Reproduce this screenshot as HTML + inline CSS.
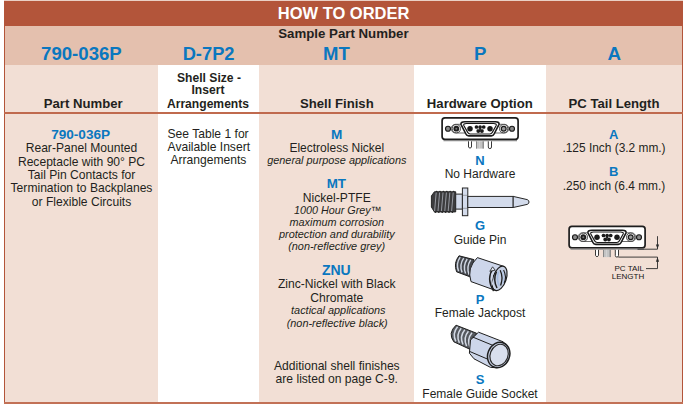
<!DOCTYPE html>
<html><head><meta charset="utf-8"><style>
html,body{margin:0;padding:0;background:#fff;}
body{width:684px;height:406px;position:relative;overflow:hidden;font-family:"Liberation Sans",sans-serif;}
.r{position:absolute;}
.t{position:absolute;text-align:center;white-space:nowrap;}
svg{position:absolute;left:0;top:0;}
</style></head><body>
<div class="r" style="left:5px;top:65px;width:153px;height:337px;background:#f2dfd5;"></div><div class="r" style="left:158px;top:65px;width:101px;height:337px;background:#ffffff;"></div><div class="r" style="left:259px;top:65px;width:155px;height:337px;background:#f2dfd5;"></div><div class="r" style="left:414px;top:65px;width:132px;height:337px;background:#ffffff;"></div><div class="r" style="left:546px;top:65px;width:136px;height:337px;background:#f2dfd5;"></div><div class="r" style="left:4px;top:26px;width:679px;height:39px;background:#e4c0ae;"></div><div class="r" style="left:4px;top:1px;width:679px;height:25px;background:#b3553a;"></div><div class="r" style="left:4px;top:0px;width:679px;height:1px;background:#ead0c5;"></div><div class="r" style="left:4px;top:1px;width:1px;height:402px;background:#b3553a;"></div><div class="r" style="left:682px;top:1px;width:1px;height:402px;background:#b3553a;"></div><div class="r" style="left:4px;top:402px;width:679px;height:2px;background:#c27156;"></div><div class="r" style="left:4px;top:112px;width:679px;height:2px;background:#c06a4e;"></div>
<svg width="684" height="406" viewBox="0 0 684 406">
<defs>
<g id="conn">
  <rect x="442.1" y="117.9" width="76" height="21.5" rx="2.8" fill="#fff" stroke="#1e1e1e" stroke-width="1.7"/>
  <line x1="443.5" y1="140.6" x2="517" y2="140.6" stroke="#8a8a8a" stroke-width="1.2"/>
  <!-- flange pills around screws -->
  <path d="M466,124.3 L455.5,124.3 A4.3,4.3 0 0 0 455.5,133 L466,133" fill="none" stroke="#444" stroke-width="0.8"/>
  <path d="M494,124.3 L504.5,124.3 A4.3,4.3 0 0 1 504.5,133 L494,133" fill="none" stroke="#444" stroke-width="0.8"/>
  <circle cx="448" cy="128.7" r="2.5" fill="#8a8a8a" stroke="#1a1a1a" stroke-width="1.15"/>
  <circle cx="512" cy="128.7" r="2.5" fill="#8a8a8a" stroke="#1a1a1a" stroke-width="1.15"/>
  <circle cx="456.3" cy="128.7" r="4.1" fill="#fff" stroke="#222" stroke-width="0.85"/>
  <circle cx="456.3" cy="128.7" r="2.9" fill="#1e1e1e"/>
  <circle cx="456.3" cy="128.7" r="1" fill="#777"/>
  <circle cx="503.7" cy="128.7" r="4.1" fill="#fff" stroke="#222" stroke-width="0.85"/>
  <circle cx="503.7" cy="128.7" r="2.4" fill="#9a9a9a" stroke="#1a1a1a" stroke-width="1.2"/>
  <!-- D shell -->
  <path d="M465,121.8 L495.3,121.8 Q499.8,121.8 498.9,124.6 L494.1,134 Q493.3,135.9 491.2,135.9 L468.8,135.9 Q466.7,135.9 465.9,134 L461.1,124.6 Q460.2,121.8 465,121.8 Z" fill="#fff" stroke="#1a1a1a" stroke-width="1.6"/>
  <path d="M466.3,123.5 L493.7,123.5 Q496.9,123.5 496.2,125.5 L492.2,132.6 Q491.5,134 489.9,134 L470.1,134 Q468.5,134 467.8,132.6 L463.8,125.5 Q463.1,123.5 466.3,123.5 Z" fill="#fff" stroke="#1a1a1a" stroke-width="1.15"/>
  <circle cx="470" cy="128.7" r="2.75" fill="#1a1a1a"/>
  <circle cx="490" cy="128.7" r="2.75" fill="#1a1a1a"/>
  <g fill="#1a1a1a">
    <circle cx="476.5" cy="127" r="1.85"/><circle cx="480.1" cy="127" r="1.85"/><circle cx="483.7" cy="127" r="1.85"/>
    <circle cx="478.3" cy="131" r="1.95"/><circle cx="481.9" cy="131" r="1.95"/>
    <circle cx="480.1" cy="129" r="1.1"/>
  </g>
  <circle cx="478.3" cy="128.9" r="0.6" fill="#aaa"/><circle cx="481.9" cy="128.9" r="0.6" fill="#aaa"/>
  <!-- pins -->
  <path d="M468.5,141.3 L468.5,147 A1.6,1.6 0 0 0 471.5,147 L471.5,141.3" fill="#fff" stroke="#222" stroke-width="0.9"/>
  <path d="M488.3,141.3 L488.3,147 A1.6,1.6 0 0 0 491.5,147 L491.5,141.3" fill="#fff" stroke="#222" stroke-width="0.9"/>
  <rect x="476" y="141.3" width="7.7" height="7.3" fill="#c4c4c4"/>
  <line x1="476.5" y1="141.3" x2="476.5" y2="148.6" stroke="#777" stroke-width="0.8"/>
  <line x1="483.2" y1="141.3" x2="483.2" y2="148.6" stroke="#555" stroke-width="0.8"/>
  <line x1="479.5" y1="141.3" x2="479.5" y2="148.6" stroke="#dcdcdc" stroke-width="0.6"/>
</g>
</defs>
<use href="#conn"/>
<use href="#conn" transform="translate(127,108.5)"/>

<!-- PC tail dimension lines -->
<g stroke="#2a2a2a" stroke-width="0.9" fill="none">
  <path d="M637.5,249.2 L657.5,249.2 L657.5,236.2"/>
  <path d="M618.3,257.1 L657.5,257.1 L657.5,268.6 L646,268.6"/>
</g>
<g fill="#2a2a2a">
  <path d="M655.9,244.5 L659.1,244.5 L657.5,249 Z"/>
  <path d="M655.9,261.8 L659.1,261.8 L657.5,257.3 Z"/>
</g>

<!-- Guide pin -->
<g fill="#262626"><circle cx="436.6" cy="191.6" r="0.9"/><circle cx="435.4" cy="212.1" r="0.9"/><circle cx="440.0" cy="191.6" r="0.9"/><circle cx="438.8" cy="212.1" r="0.9"/><circle cx="443.4" cy="191.6" r="0.9"/><circle cx="442.2" cy="212.1" r="0.9"/><circle cx="446.8" cy="191.6" r="0.9"/><circle cx="445.6" cy="212.1" r="0.9"/><circle cx="450.2" cy="191.6" r="0.9"/><circle cx="449.0" cy="212.1" r="0.9"/><circle cx="453.6" cy="191.6" r="0.9"/><circle cx="452.4" cy="212.1" r="0.9"/></g>
<g stroke="#262626" stroke-width="1">
  <path d="M431.4,195.9 L434.4,191.8 L455.7,191.8 L455.7,211.9 L434.4,211.9 L431.4,207 Z" fill="#3c3c3e"/>
  <g stroke="#b4b8c2" stroke-width="0.75">
    <line x1="436.2" y1="192.5" x2="434.6" y2="211"/>
    <line x1="439.6" y1="192.5" x2="438" y2="211"/>
    <line x1="443" y1="192.5" x2="441.4" y2="211"/>
    <line x1="446.4" y1="192.5" x2="444.8" y2="211"/>
    <line x1="449.8" y1="192.5" x2="448.2" y2="211"/>
    <line x1="453.2" y1="192.5" x2="451.6" y2="211"/>
  </g>
  <rect x="455.7" y="194.1" width="6.7" height="15" fill="#d3dbeb"/>
  <rect x="462.4" y="188" width="5.4" height="27.7" fill="#d3dbeb"/>
  <rect x="467.8" y="196.4" width="45.4" height="11.1" fill="#d3dbeb"/>
  <path d="M513.2,196.4 L527.2,199.6 Q529,200.2 529,202 Q529,203.8 527.2,204.4 L513.2,207.5 Z" fill="#d3dbeb"/>
</g>
<line x1="462.9" y1="195.3" x2="467.3" y2="195.3" stroke="#777" stroke-width="0.6"/>
<line x1="462.9" y1="208.3" x2="467.3" y2="208.3" stroke="#777" stroke-width="0.6"/>

<!-- Jackpost -->
<g stroke="#1e1e1e" stroke-width="1">
  <path d="M459,255.8 L474,259.6 L470.5,277 L456.6,271.8 Q453.2,263 459,255.8 Z" fill="#45484e"/>
  <g stroke="#cfd6e2" stroke-width="1.45" fill="none">
    <path d="M460.2,257.2 Q455.5,264 458.6,271.2"/>
    <path d="M463.7,258.1 Q459,265 462.1,272.4"/>
    <path d="M467.2,259 Q462.5,266 465.6,273.6"/>
    <path d="M470.7,259.9 Q466,267 469.1,274.8"/>
  </g>
  <path d="M477.4,257.6 L503.8,266.4 L495.4,290.4 L471,281.6 Q466.5,268 477.4,257.6 Z" fill="#cdd6ea"/>
  <ellipse cx="499.6" cy="278.4" rx="6.6" ry="12.7" transform="rotate(19 499.6 278.4)" fill="#c5cfe3" stroke-width="1.2"/>
</g>
<g fill="none">
  <path d="M493.2,268.2 Q485.8,279 493.6,291" stroke="#1e1e1e" stroke-width="1.4"/>
  <path d="M494.6,270.5 Q489,279.5 494.8,288.8" stroke="#d5dcea" stroke-width="1.1"/>
  <path d="M496.5,271.5 Q492.8,280 497,288" stroke="#1e1e1e" stroke-width="1.5"/>
  <path d="M498.6,271.5 Q496,279 499.3,286" stroke="#a7bde0" stroke-width="1.6"/>
  <path d="M500.2,270.2 Q503.6,277.5 500.6,285.5" stroke="#1e1e1e" stroke-width="1.3"/>
  <path d="M502,270.5 Q505.2,277 502.6,284" stroke="#b5c8e6" stroke-width="1.1"/>
  <path d="M503.6,270 Q507,276.8 504.2,283" stroke="#1e1e1e" stroke-width="1.1"/>
</g>
<path d="M489.8,271.3 L492.6,266.8 L495.2,270.2 Z" fill="#e2e7f2" stroke="#1e1e1e" stroke-width="0.8"/>
<!-- Socket -->
<g stroke="#1e1e1e" stroke-width="1">
  <path d="M456,325.2 L476.5,333.2 L471.5,350 L453.8,341.8 Q447.5,333 456,325.2 Z" fill="#55595f"/>
  <g stroke="#d3d9e4" stroke-width="1.5" fill="none">
    <path d="M457.6,326.8 Q452,333.5 455.8,341.3"/>
    <path d="M461.2,328.3 Q455.6,335 459.4,342.9"/>
    <path d="M464.8,329.8 Q459.2,336.5 463,344.5"/>
    <path d="M468.4,331.3 Q462.8,338 466.6,346.1"/>
    <path d="M472,332.8 Q466.4,339.5 470.2,347.7"/>
  </g>
  <path d="M478.5,332.2 L503.4,341.9 L509.5,351 L507,362 L497,367.8 L490.3,367.3 L474,358.8 L469.4,353.2 L470.5,340 Z" fill="#cdd6ea"/>
  <path d="M472.6,337 L493.2,345.5 M469.8,351.5 L488.5,359.5" fill="none"/>
  <ellipse cx="498.7" cy="355" rx="10.9" ry="13" transform="rotate(22 498.7 355)" fill="#c9d2e6" stroke-width="1.5"/>
  <ellipse cx="499.1" cy="355" rx="8.9" ry="11" transform="rotate(22 499.1 355)" fill="#d9dfed" stroke="#2a2a2a" stroke-width="1.2"/>
</g>
</svg>

<div class="t" style="left:193.60px;top:3px;width:300px;font-size:16.5px;line-height:21.45px;font-weight:bold;font-style:normal;color:#ffffff;">HOW TO ORDER</div><div class="t" style="left:193.45px;top:25px;width:300px;font-size:13.25px;line-height:17.23px;font-weight:bold;font-style:normal;color:#231f20;">Sample Part Number</div><div class="t" style="left:-68.60px;top:42px;width:300px;font-size:18.6px;line-height:24.18px;font-weight:bold;font-style:normal;color:#0a77bf;">790-036P</div><div class="t" style="left:58.60px;top:42px;width:300px;font-size:18.3px;line-height:23.79px;font-weight:bold;font-style:normal;color:#0a77bf;">D-7P2</div><div class="t" style="left:186.40px;top:42px;width:300px;font-size:18.5px;line-height:24.05px;font-weight:bold;font-style:normal;color:#0a77bf;">MT</div><div class="t" style="left:330.20px;top:42px;width:300px;font-size:18.6px;line-height:24.18px;font-weight:bold;font-style:normal;color:#0a77bf;">P</div><div class="t" style="left:464.30px;top:42px;width:300px;font-size:18.8px;line-height:24.44px;font-weight:bold;font-style:normal;color:#0a77bf;">A</div><div class="t" style="left:-66.80px;top:95px;width:300px;font-size:13.15px;line-height:17.1px;font-weight:bold;font-style:normal;color:#231f20;">Part Number</div><div class="t" style="left:58.90px;top:69px;width:300px;font-size:13.2px;line-height:17.16px;font-weight:bold;font-style:normal;color:#231f20;transform:scaleX(0.918);">Shell Size -</div><div class="t" style="left:57.60px;top:81px;width:300px;font-size:13.2px;line-height:17.16px;font-weight:bold;font-style:normal;color:#231f20;transform:scaleX(0.918);">Insert</div><div class="t" style="left:58.30px;top:95px;width:300px;font-size:13.2px;line-height:17.16px;font-weight:bold;font-style:normal;color:#231f20;transform:scaleX(0.918);">Arrangements</div><div class="t" style="left:186.80px;top:95px;width:300px;font-size:13.15px;line-height:17.1px;font-weight:bold;font-style:normal;color:#231f20;">Shell Finish</div><div class="t" style="left:329.80px;top:95px;width:300px;font-size:13.15px;line-height:17.1px;font-weight:bold;font-style:normal;color:#231f20;">Hardware Option</div><div class="t" style="left:464.00px;top:95px;width:300px;font-size:13.15px;line-height:17.1px;font-weight:bold;font-style:normal;color:#231f20;">PC Tail Length</div><div class="t" style="left:-69.40px;top:126px;width:300px;font-size:13.6px;line-height:17.68px;font-weight:bold;font-style:normal;color:#0a77bf;">790-036P</div><div class="t" style="left:-68.50px;top:141px;width:300px;font-size:12.1px;line-height:15.73px;font-weight:normal;font-style:normal;color:#231f20;">Rear-Panel Mounted</div><div class="t" style="left:-68.50px;top:155px;width:300px;font-size:12.1px;line-height:15.73px;font-weight:normal;font-style:normal;color:#231f20;">Receptacle with 90° PC</div><div class="t" style="left:-68.50px;top:168px;width:300px;font-size:12.1px;line-height:15.73px;font-weight:normal;font-style:normal;color:#231f20;">Tail Pin Contacts for</div><div class="t" style="left:-68.50px;top:181px;width:300px;font-size:12.1px;line-height:15.73px;font-weight:normal;font-style:normal;color:#231f20;">Termination to Backplanes</div><div class="t" style="left:-68.50px;top:195px;width:300px;font-size:12.1px;line-height:15.73px;font-weight:normal;font-style:normal;color:#231f20;">or Flexible Circuits</div><div class="t" style="left:58.10px;top:127px;width:300px;font-size:12.1px;line-height:15.73px;font-weight:normal;font-style:normal;color:#231f20;">See Table 1 for</div><div class="t" style="left:58.80px;top:140px;width:300px;font-size:12.1px;line-height:15.73px;font-weight:normal;font-style:normal;color:#231f20;">Available Insert</div><div class="t" style="left:58.40px;top:153px;width:300px;font-size:12.1px;line-height:15.73px;font-weight:normal;font-style:normal;color:#231f20;">Arrangements</div><div class="t" style="left:186.70px;top:126px;width:300px;font-size:13.6px;line-height:17.68px;font-weight:bold;font-style:normal;color:#0a77bf;">M</div><div class="t" style="left:186.80px;top:141px;width:300px;font-size:12px;line-height:15.6px;font-weight:normal;font-style:normal;color:#231f20;">Electroless Nickel</div><div class="t" style="left:186.80px;top:153px;width:300px;font-size:10.9px;line-height:14.17px;font-weight:normal;font-style:italic;color:#231f20;">general purpose applications</div><div class="t" style="left:186.30px;top:175px;width:300px;font-size:13.4px;line-height:17.42px;font-weight:bold;font-style:normal;color:#0a77bf;">MT</div><div class="t" style="left:186.80px;top:191px;width:300px;font-size:12.1px;line-height:15.73px;font-weight:normal;font-style:normal;color:#231f20;">Nickel-PTFE</div><div class="t" style="left:187.70px;top:203px;width:300px;font-size:10.8px;line-height:14.04px;font-weight:normal;font-style:italic;color:#231f20;">1000 Hour Grey™</div><div class="t" style="left:186.80px;top:215px;width:300px;font-size:10.85px;line-height:14.11px;font-weight:normal;font-style:italic;color:#231f20;">maximum corrosion</div><div class="t" style="left:186.80px;top:227px;width:300px;font-size:10.9px;line-height:14.17px;font-weight:normal;font-style:italic;color:#231f20;">protection and durability</div><div class="t" style="left:186.60px;top:239px;width:300px;font-size:10.9px;line-height:14.17px;font-weight:normal;font-style:italic;color:#231f20;">(non-reflective grey)</div><div class="t" style="left:186.30px;top:261px;width:300px;font-size:14px;line-height:18.2px;font-weight:bold;font-style:normal;color:#0a77bf;">ZNU</div><div class="t" style="left:186.80px;top:277px;width:300px;font-size:12.1px;line-height:15.73px;font-weight:normal;font-style:normal;color:#231f20;">Zinc-Nickel with Black</div><div class="t" style="left:186.80px;top:291px;width:300px;font-size:12.1px;line-height:15.73px;font-weight:normal;font-style:normal;color:#231f20;">Chromate</div><div class="t" style="left:188.30px;top:303px;width:300px;font-size:10.9px;line-height:14.17px;font-weight:normal;font-style:italic;color:#231f20;">tactical applications</div><div class="t" style="left:187.20px;top:316px;width:300px;font-size:10.9px;line-height:14.17px;font-weight:normal;font-style:italic;color:#231f20;">(non-reflective black)</div><div class="t" style="left:186.80px;top:359px;width:300px;font-size:12.1px;line-height:15.73px;font-weight:normal;font-style:normal;color:#231f20;">Additional shell finishes</div><div class="t" style="left:186.80px;top:372px;width:300px;font-size:12.1px;line-height:15.73px;font-weight:normal;font-style:normal;color:#231f20;">are listed on page C-9.</div><div class="t" style="left:330.00px;top:153px;width:300px;font-size:13px;line-height:16.9px;font-weight:bold;font-style:normal;color:#0a77bf;">N</div><div class="t" style="left:330.00px;top:167px;width:300px;font-size:12px;line-height:15.6px;font-weight:normal;font-style:normal;color:#231f20;">No Hardware</div><div class="t" style="left:330.00px;top:218px;width:300px;font-size:13px;line-height:16.9px;font-weight:bold;font-style:normal;color:#0a77bf;">G</div><div class="t" style="left:330.00px;top:233px;width:300px;font-size:12px;line-height:15.6px;font-weight:normal;font-style:normal;color:#231f20;">Guide Pin</div><div class="t" style="left:330.00px;top:292px;width:300px;font-size:13px;line-height:16.9px;font-weight:bold;font-style:normal;color:#0a77bf;">P</div><div class="t" style="left:330.00px;top:306px;width:300px;font-size:12px;line-height:15.6px;font-weight:normal;font-style:normal;color:#231f20;">Female Jackpost</div><div class="t" style="left:330.00px;top:372px;width:300px;font-size:13px;line-height:16.9px;font-weight:bold;font-style:normal;color:#0a77bf;">S</div><div class="t" style="left:330.00px;top:387px;width:300px;font-size:12px;line-height:15.6px;font-weight:normal;font-style:normal;color:#231f20;">Female Guide Socket</div><div class="t" style="left:463.65px;top:127px;width:300px;font-size:13px;line-height:16.9px;font-weight:bold;font-style:normal;color:#0a77bf;">A</div><div class="t" style="left:464.00px;top:141px;width:300px;font-size:11.9px;line-height:15.47px;font-weight:normal;font-style:normal;color:#231f20;">.125 Inch (3.2 mm.)</div><div class="t" style="left:463.75px;top:164px;width:300px;font-size:13px;line-height:16.9px;font-weight:bold;font-style:normal;color:#0a77bf;">B</div><div class="t" style="left:464.00px;top:179px;width:300px;font-size:11.9px;line-height:15.47px;font-weight:normal;font-style:normal;color:#231f20;">.250 inch (6.4 mm.)</div><div class="t" style="left:479.25px;top:264px;width:300px;font-size:8px;line-height:10.4px;font-weight:normal;font-style:normal;color:#141414;">PC TAIL</div><div class="t" style="left:477.95px;top:272px;width:300px;font-size:8px;line-height:10.4px;font-weight:normal;font-style:normal;color:#141414;">LENGTH</div>
</body></html>
